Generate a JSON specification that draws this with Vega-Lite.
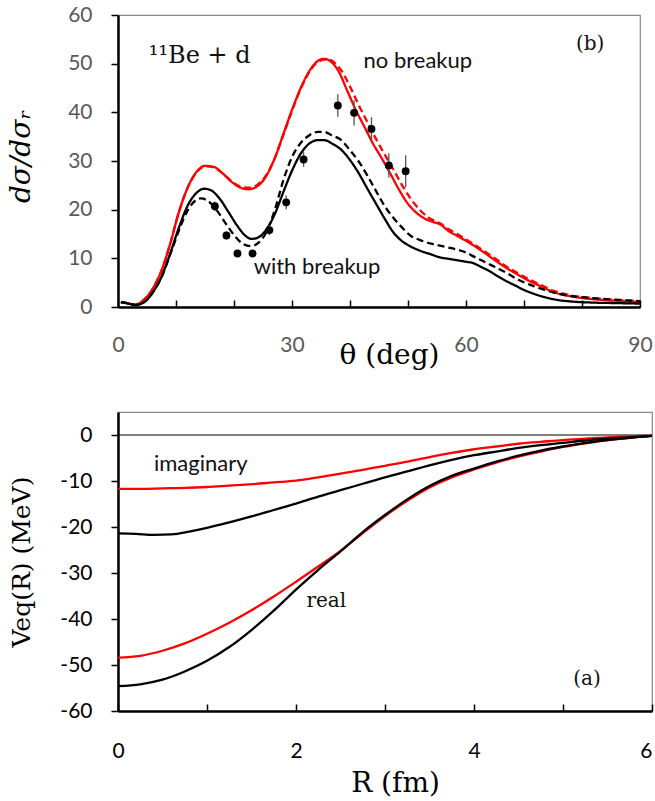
{
  "$schema": "https://vega.github.io/schema/vega-lite/v6.json",
  "background": "white",
  "padding": {"left": 6, "top": 3, "right": 0, "bottom": 0},
  "spacing": 41,
  "config": {
    "view": {"stroke": "#888888", "strokeWidth": 1.2},
    "axis": {"domainColor": "#000000", "domainWidth": 2.5, "tickColor": "#000000", "tickWidth": 1.5, "grid": false, "labelFlush": false, "labelFont": "Lato", "labelFontSize": 21, "titleFont": "DejaVu Serif", "titleFontWeight": "normal", "titleColor": "#000000"},
    "text": {"color": "#111111"}
  },
  "datasets": {
    "xs": [
      {"theta":0.5,"sigma":1.0,"case":"no breakup","calc":"exact"},{"theta":1.5,"sigma":0.8,"case":"no breakup","calc":"exact"},{"theta":3,"sigma":0.5,"case":"no breakup","calc":"exact"},{"theta":4.5,"sigma":1.5,"case":"no breakup","calc":"exact"},{"theta":6,"sigma":3.8,"case":"no breakup","calc":"exact"},{"theta":7.5,"sigma":7.5,"case":"no breakup","calc":"exact"},{"theta":9,"sigma":13.0,"case":"no breakup","calc":"exact"},{"theta":10.5,"sigma":19.5,"case":"no breakup","calc":"exact"},{"theta":12,"sigma":24.5,"case":"no breakup","calc":"exact"},{"theta":13.5,"sigma":27.7,"case":"no breakup","calc":"exact"},{"theta":15,"sigma":29.0,"case":"no breakup","calc":"exact"},{"theta":16.5,"sigma":28.8,"case":"no breakup","calc":"exact"},{"theta":18,"sigma":27.5,"case":"no breakup","calc":"exact"},{"theta":19.5,"sigma":25.8,"case":"no breakup","calc":"exact"},{"theta":21,"sigma":24.6,"case":"no breakup","calc":"exact"},{"theta":22.5,"sigma":24.2,"case":"no breakup","calc":"exact"},{"theta":24,"sigma":24.8,"case":"no breakup","calc":"exact"},{"theta":25.5,"sigma":26.8,"case":"no breakup","calc":"exact"},{"theta":27,"sigma":30.5,"case":"no breakup","calc":"exact"},{"theta":28.5,"sigma":35.5,"case":"no breakup","calc":"exact"},{"theta":30,"sigma":40.5,"case":"no breakup","calc":"exact"},{"theta":31.5,"sigma":45.0,"case":"no breakup","calc":"exact"},{"theta":33,"sigma":48.5,"case":"no breakup","calc":"exact"},{"theta":34.5,"sigma":50.6,"case":"no breakup","calc":"exact"},{"theta":35.5,"sigma":51.0,"case":"no breakup","calc":"exact"},{"theta":36.5,"sigma":50.6,"case":"no breakup","calc":"exact"},{"theta":38,"sigma":48.5,"case":"no breakup","calc":"exact"},{"theta":39.5,"sigma":44.5,"case":"no breakup","calc":"exact"},{"theta":41,"sigma":40.5,"case":"no breakup","calc":"exact"},{"theta":42.5,"sigma":37.0,"case":"no breakup","calc":"exact"},{"theta":44,"sigma":33.5,"case":"no breakup","calc":"exact"},{"theta":45.5,"sigma":30.5,"case":"no breakup","calc":"exact"},{"theta":47,"sigma":27.3,"case":"no breakup","calc":"exact"},{"theta":48.5,"sigma":24.0,"case":"no breakup","calc":"exact"},{"theta":50,"sigma":21.2,"case":"no breakup","calc":"exact"},{"theta":51.5,"sigma":19.3,"case":"no breakup","calc":"exact"},{"theta":53,"sigma":18.1,"case":"no breakup","calc":"exact"},{"theta":54.5,"sigma":17.4,"case":"no breakup","calc":"exact"},{"theta":55.5,"sigma":17.0,"case":"no breakup","calc":"exact"},{"theta":57,"sigma":15.6,"case":"no breakup","calc":"exact"},{"theta":58.5,"sigma":14.6,"case":"no breakup","calc":"exact"},{"theta":60,"sigma":13.6,"case":"no breakup","calc":"exact"},{"theta":61.5,"sigma":12.5,"case":"no breakup","calc":"exact"},{"theta":63,"sigma":11.3,"case":"no breakup","calc":"exact"},{"theta":65,"sigma":9.6,"case":"no breakup","calc":"exact"},{"theta":67,"sigma":8.0,"case":"no breakup","calc":"exact"},{"theta":69,"sigma":6.6,"case":"no breakup","calc":"exact"},{"theta":71,"sigma":5.3,"case":"no breakup","calc":"exact"},{"theta":72.8,"sigma":4.3,"case":"no breakup","calc":"exact"},{"theta":75,"sigma":3.1,"case":"no breakup","calc":"exact"},{"theta":78.5,"sigma":2.1,"case":"no breakup","calc":"exact"},{"theta":81,"sigma":1.7,"case":"no breakup","calc":"exact"},{"theta":84.3,"sigma":1.4,"case":"no breakup","calc":"exact"},{"theta":87,"sigma":1.2,"case":"no breakup","calc":"exact"},{"theta":90,"sigma":1.0,"case":"no breakup","calc":"exact"},
      {"theta":0.5,"sigma":1.0,"case":"no breakup","calc":"equivalent"},{"theta":1.5,"sigma":0.8,"case":"no breakup","calc":"equivalent"},{"theta":3,"sigma":0.5,"case":"no breakup","calc":"equivalent"},{"theta":4.5,"sigma":1.5,"case":"no breakup","calc":"equivalent"},{"theta":6,"sigma":3.8,"case":"no breakup","calc":"equivalent"},{"theta":7.5,"sigma":7.5,"case":"no breakup","calc":"equivalent"},{"theta":9,"sigma":13.0,"case":"no breakup","calc":"equivalent"},{"theta":10.5,"sigma":19.5,"case":"no breakup","calc":"equivalent"},{"theta":12,"sigma":24.5,"case":"no breakup","calc":"equivalent"},{"theta":13.5,"sigma":27.6,"case":"no breakup","calc":"equivalent"},{"theta":15,"sigma":28.9,"case":"no breakup","calc":"equivalent"},{"theta":16.5,"sigma":28.7,"case":"no breakup","calc":"equivalent"},{"theta":18,"sigma":27.5,"case":"no breakup","calc":"equivalent"},{"theta":19.5,"sigma":25.9,"case":"no breakup","calc":"equivalent"},{"theta":21,"sigma":24.8,"case":"no breakup","calc":"equivalent"},{"theta":22.5,"sigma":24.5,"case":"no breakup","calc":"equivalent"},{"theta":24,"sigma":25.1,"case":"no breakup","calc":"equivalent"},{"theta":25.5,"sigma":27.0,"case":"no breakup","calc":"equivalent"},{"theta":27,"sigma":30.5,"case":"no breakup","calc":"equivalent"},{"theta":28.5,"sigma":35.3,"case":"no breakup","calc":"equivalent"},{"theta":30,"sigma":40.3,"case":"no breakup","calc":"equivalent"},{"theta":31.5,"sigma":44.8,"case":"no breakup","calc":"equivalent"},{"theta":33,"sigma":48.3,"case":"no breakup","calc":"equivalent"},{"theta":34.5,"sigma":50.4,"case":"no breakup","calc":"equivalent"},{"theta":36,"sigma":50.9,"case":"no breakup","calc":"equivalent"},{"theta":37,"sigma":50.5,"case":"no breakup","calc":"equivalent"},{"theta":38.5,"sigma":48.6,"case":"no breakup","calc":"equivalent"},{"theta":40,"sigma":45.3,"case":"no breakup","calc":"equivalent"},{"theta":41.5,"sigma":41.5,"case":"no breakup","calc":"equivalent"},{"theta":43,"sigma":38.0,"case":"no breakup","calc":"equivalent"},{"theta":44.5,"sigma":34.5,"case":"no breakup","calc":"equivalent"},{"theta":46,"sigma":31.3,"case":"no breakup","calc":"equivalent"},{"theta":47.5,"sigma":28.2,"case":"no breakup","calc":"equivalent"},{"theta":49,"sigma":25.0,"case":"no breakup","calc":"equivalent"},{"theta":50.5,"sigma":22.2,"case":"no breakup","calc":"equivalent"},{"theta":52,"sigma":20.0,"case":"no breakup","calc":"equivalent"},{"theta":53.5,"sigma":18.4,"case":"no breakup","calc":"equivalent"},{"theta":55.5,"sigma":17.2,"case":"no breakup","calc":"equivalent"},{"theta":57,"sigma":16.0,"case":"no breakup","calc":"equivalent"},{"theta":58.5,"sigma":15.0,"case":"no breakup","calc":"equivalent"},{"theta":60,"sigma":13.9,"case":"no breakup","calc":"equivalent"},{"theta":61.5,"sigma":12.8,"case":"no breakup","calc":"equivalent"},{"theta":63,"sigma":11.6,"case":"no breakup","calc":"equivalent"},{"theta":65,"sigma":10.0,"case":"no breakup","calc":"equivalent"},{"theta":67,"sigma":8.3,"case":"no breakup","calc":"equivalent"},{"theta":69,"sigma":6.9,"case":"no breakup","calc":"equivalent"},{"theta":71,"sigma":5.6,"case":"no breakup","calc":"equivalent"},{"theta":72.8,"sigma":4.6,"case":"no breakup","calc":"equivalent"},{"theta":75,"sigma":3.4,"case":"no breakup","calc":"equivalent"},{"theta":78.5,"sigma":2.3,"case":"no breakup","calc":"equivalent"},{"theta":81,"sigma":1.9,"case":"no breakup","calc":"equivalent"},{"theta":84.3,"sigma":1.6,"case":"no breakup","calc":"equivalent"},{"theta":87,"sigma":1.4,"case":"no breakup","calc":"equivalent"},{"theta":90,"sigma":1.2,"case":"no breakup","calc":"equivalent"},
      {"theta":0.5,"sigma":1.0,"case":"with breakup","calc":"exact"},{"theta":1.5,"sigma":0.8,"case":"with breakup","calc":"exact"},{"theta":3,"sigma":0.4,"case":"with breakup","calc":"exact"},{"theta":4.5,"sigma":1.0,"case":"with breakup","calc":"exact"},{"theta":6,"sigma":3.0,"case":"with breakup","calc":"exact"},{"theta":7.5,"sigma":6.2,"case":"with breakup","calc":"exact"},{"theta":9,"sigma":11.0,"case":"with breakup","calc":"exact"},{"theta":10.5,"sigma":16.3,"case":"with breakup","calc":"exact"},{"theta":12,"sigma":20.8,"case":"with breakup","calc":"exact"},{"theta":13.5,"sigma":23.4,"case":"with breakup","calc":"exact"},{"theta":14.8,"sigma":24.3,"case":"with breakup","calc":"exact"},{"theta":16,"sigma":24.0,"case":"with breakup","calc":"exact"},{"theta":17.5,"sigma":22.3,"case":"with breakup","calc":"exact"},{"theta":19,"sigma":19.6,"case":"with breakup","calc":"exact"},{"theta":20.5,"sigma":16.8,"case":"with breakup","calc":"exact"},{"theta":22,"sigma":14.6,"case":"with breakup","calc":"exact"},{"theta":23,"sigma":14.0,"case":"with breakup","calc":"exact"},{"theta":24,"sigma":14.2,"case":"with breakup","calc":"exact"},{"theta":25.5,"sigma":15.8,"case":"with breakup","calc":"exact"},{"theta":27,"sigma":19.0,"case":"with breakup","calc":"exact"},{"theta":28.5,"sigma":23.6,"case":"with breakup","calc":"exact"},{"theta":30,"sigma":28.0,"case":"with breakup","calc":"exact"},{"theta":31.5,"sigma":31.5,"case":"with breakup","calc":"exact"},{"theta":33,"sigma":33.6,"case":"with breakup","calc":"exact"},{"theta":34.5,"sigma":34.3,"case":"with breakup","calc":"exact"},{"theta":35.5,"sigma":34.3,"case":"with breakup","calc":"exact"},{"theta":37,"sigma":33.5,"case":"with breakup","calc":"exact"},{"theta":38.5,"sigma":32.3,"case":"with breakup","calc":"exact"},{"theta":40,"sigma":30.2,"case":"with breakup","calc":"exact"},{"theta":41.5,"sigma":27.5,"case":"with breakup","calc":"exact"},{"theta":43,"sigma":24.3,"case":"with breakup","calc":"exact"},{"theta":44.5,"sigma":21.2,"case":"with breakup","calc":"exact"},{"theta":46,"sigma":18.1,"case":"with breakup","calc":"exact"},{"theta":47.5,"sigma":15.3,"case":"with breakup","calc":"exact"},{"theta":49,"sigma":13.5,"case":"with breakup","calc":"exact"},{"theta":50.5,"sigma":12.4,"case":"with breakup","calc":"exact"},{"theta":52,"sigma":11.6,"case":"with breakup","calc":"exact"},{"theta":54,"sigma":10.8,"case":"with breakup","calc":"exact"},{"theta":55.5,"sigma":10.2,"case":"with breakup","calc":"exact"},{"theta":57,"sigma":9.9,"case":"with breakup","calc":"exact"},{"theta":58.5,"sigma":9.6,"case":"with breakup","calc":"exact"},{"theta":60,"sigma":9.3,"case":"with breakup","calc":"exact"},{"theta":61.3,"sigma":9.0,"case":"with breakup","calc":"exact"},{"theta":62.5,"sigma":8.3,"case":"with breakup","calc":"exact"},{"theta":64,"sigma":7.4,"case":"with breakup","calc":"exact"},{"theta":65.5,"sigma":6.3,"case":"with breakup","calc":"exact"},{"theta":67,"sigma":5.3,"case":"with breakup","calc":"exact"},{"theta":68.5,"sigma":4.4,"case":"with breakup","calc":"exact"},{"theta":70,"sigma":3.5,"case":"with breakup","calc":"exact"},{"theta":71.5,"sigma":2.8,"case":"with breakup","calc":"exact"},{"theta":73,"sigma":2.2,"case":"with breakup","calc":"exact"},{"theta":75.5,"sigma":1.5,"case":"with breakup","calc":"exact"},{"theta":78.5,"sigma":1.1,"case":"with breakup","calc":"exact"},{"theta":82,"sigma":0.9,"case":"with breakup","calc":"exact"},{"theta":86,"sigma":0.8,"case":"with breakup","calc":"exact"},{"theta":90,"sigma":0.7,"case":"with breakup","calc":"exact"},
      {"theta":0.5,"sigma":1.0,"case":"with breakup","calc":"equivalent"},{"theta":1.5,"sigma":0.8,"case":"with breakup","calc":"equivalent"},{"theta":3,"sigma":0.4,"case":"with breakup","calc":"equivalent"},{"theta":4.5,"sigma":1.0,"case":"with breakup","calc":"equivalent"},{"theta":6,"sigma":3.0,"case":"with breakup","calc":"equivalent"},{"theta":7.5,"sigma":6.1,"case":"with breakup","calc":"equivalent"},{"theta":9,"sigma":10.8,"case":"with breakup","calc":"equivalent"},{"theta":10.5,"sigma":15.7,"case":"with breakup","calc":"equivalent"},{"theta":12,"sigma":19.8,"case":"with breakup","calc":"equivalent"},{"theta":13.5,"sigma":22.0,"case":"with breakup","calc":"equivalent"},{"theta":14.3,"sigma":22.3,"case":"with breakup","calc":"equivalent"},{"theta":15.5,"sigma":21.8,"case":"with breakup","calc":"equivalent"},{"theta":17,"sigma":19.9,"case":"with breakup","calc":"equivalent"},{"theta":18.5,"sigma":17.3,"case":"with breakup","calc":"equivalent"},{"theta":20,"sigma":14.8,"case":"with breakup","calc":"equivalent"},{"theta":21.5,"sigma":13.0,"case":"with breakup","calc":"equivalent"},{"theta":22.8,"sigma":12.5,"case":"with breakup","calc":"equivalent"},{"theta":24,"sigma":13.0,"case":"with breakup","calc":"equivalent"},{"theta":25.5,"sigma":15.2,"case":"with breakup","calc":"equivalent"},{"theta":27,"sigma":19.8,"case":"with breakup","calc":"equivalent"},{"theta":28.5,"sigma":26.0,"case":"with breakup","calc":"equivalent"},{"theta":30,"sigma":30.8,"case":"with breakup","calc":"equivalent"},{"theta":31.5,"sigma":33.7,"case":"with breakup","calc":"equivalent"},{"theta":33,"sigma":35.3,"case":"with breakup","calc":"equivalent"},{"theta":34.5,"sigma":36.0,"case":"with breakup","calc":"equivalent"},{"theta":35.5,"sigma":36.0,"case":"with breakup","calc":"equivalent"},{"theta":37,"sigma":35.2,"case":"with breakup","calc":"equivalent"},{"theta":38.5,"sigma":34.3,"case":"with breakup","calc":"equivalent"},{"theta":40,"sigma":32.2,"case":"with breakup","calc":"equivalent"},{"theta":41.5,"sigma":29.9,"case":"with breakup","calc":"equivalent"},{"theta":43,"sigma":27.0,"case":"with breakup","calc":"equivalent"},{"theta":44.5,"sigma":23.8,"case":"with breakup","calc":"equivalent"},{"theta":46,"sigma":20.7,"case":"with breakup","calc":"equivalent"},{"theta":47.5,"sigma":18.3,"case":"with breakup","calc":"equivalent"},{"theta":49,"sigma":16.3,"case":"with breakup","calc":"equivalent"},{"theta":50.5,"sigma":14.6,"case":"with breakup","calc":"equivalent"},{"theta":52,"sigma":13.8,"case":"with breakup","calc":"equivalent"},{"theta":54,"sigma":13.0,"case":"with breakup","calc":"equivalent"},{"theta":55.5,"sigma":12.6,"case":"with breakup","calc":"equivalent"},{"theta":57,"sigma":12.2,"case":"with breakup","calc":"equivalent"},{"theta":58.5,"sigma":11.8,"case":"with breakup","calc":"equivalent"},{"theta":60,"sigma":11.2,"case":"with breakup","calc":"equivalent"},{"theta":61.3,"sigma":10.4,"case":"with breakup","calc":"equivalent"},{"theta":63,"sigma":9.4,"case":"with breakup","calc":"equivalent"},{"theta":65,"sigma":8.2,"case":"with breakup","calc":"equivalent"},{"theta":67,"sigma":7.0,"case":"with breakup","calc":"equivalent"},{"theta":69,"sigma":5.6,"case":"with breakup","calc":"equivalent"},{"theta":71,"sigma":4.6,"case":"with breakup","calc":"equivalent"},{"theta":72.8,"sigma":3.8,"case":"with breakup","calc":"equivalent"},{"theta":75,"sigma":3.0,"case":"with breakup","calc":"equivalent"},{"theta":78.5,"sigma":2.2,"case":"with breakup","calc":"equivalent"},{"theta":81,"sigma":1.9,"case":"with breakup","calc":"equivalent"},{"theta":84.3,"sigma":1.6,"case":"with breakup","calc":"equivalent"},{"theta":87,"sigma":1.4,"case":"with breakup","calc":"equivalent"},{"theta":90,"sigma":1.2,"case":"with breakup","calc":"equivalent"}
    ],
    "pts": [
      {"theta":16.7,"sigma":20.7,"lo":19.7,"hi":21.7},
      {"theta":18.7,"sigma":14.7,"lo":13.9,"hi":15.5},
      {"theta":20.6,"sigma":11.0,"lo":10.3,"hi":11.7},
      {"theta":23.2,"sigma":11.0,"lo":10.3,"hi":11.7},
      {"theta":26.1,"sigma":15.8,"lo":14.8,"hi":16.8},
      {"theta":29.0,"sigma":21.5,"lo":20.1,"hi":22.9},
      {"theta":32.0,"sigma":30.3,"lo":28.8,"hi":31.8},
      {"theta":37.9,"sigma":41.4,"lo":39.1,"hi":43.7},
      {"theta":40.7,"sigma":39.9,"lo":37.3,"hi":42.5},
      {"theta":43.7,"sigma":36.6,"lo":34.2,"hi":39.0},
      {"theta":46.7,"sigma":29.1,"lo":26.6,"hi":31.6},
      {"theta":49.6,"sigma":27.9,"lo":24.6,"hi":31.2}
    ],
    "pot": [
      {"R":0,"V":-11.7,"case":"no breakup","part":"imaginary"},{"R":0.25,"V":-11.7,"case":"no breakup","part":"imaginary"},{"R":0.5,"V":-11.6,"case":"no breakup","part":"imaginary"},{"R":0.75,"V":-11.5,"case":"no breakup","part":"imaginary"},{"R":1,"V":-11.3,"case":"no breakup","part":"imaginary"},{"R":1.25,"V":-11.0,"case":"no breakup","part":"imaginary"},{"R":1.5,"V":-10.7,"case":"no breakup","part":"imaginary"},{"R":1.75,"V":-10.3,"case":"no breakup","part":"imaginary"},{"R":2,"V":-9.9,"case":"no breakup","part":"imaginary"},{"R":2.25,"V":-9.2,"case":"no breakup","part":"imaginary"},{"R":2.5,"V":-8.4,"case":"no breakup","part":"imaginary"},{"R":2.75,"V":-7.6,"case":"no breakup","part":"imaginary"},{"R":3,"V":-6.7,"case":"no breakup","part":"imaginary"},{"R":3.25,"V":-5.8,"case":"no breakup","part":"imaginary"},{"R":3.5,"V":-4.8,"case":"no breakup","part":"imaginary"},{"R":3.75,"V":-3.9,"case":"no breakup","part":"imaginary"},{"R":4,"V":-3.1,"case":"no breakup","part":"imaginary"},{"R":4.25,"V":-2.5,"case":"no breakup","part":"imaginary"},{"R":4.5,"V":-1.9,"case":"no breakup","part":"imaginary"},{"R":4.75,"V":-1.5,"case":"no breakup","part":"imaginary"},{"R":5,"V":-1.1,"case":"no breakup","part":"imaginary"},{"R":5.25,"V":-0.8,"case":"no breakup","part":"imaginary"},{"R":5.5,"V":-0.5,"case":"no breakup","part":"imaginary"},{"R":5.75,"V":-0.3,"case":"no breakup","part":"imaginary"},{"R":6,"V":-0.2,"case":"no breakup","part":"imaginary"},
      {"R":0,"V":-48.4,"case":"no breakup","part":"real"},{"R":0.25,"V":-48.0,"case":"no breakup","part":"real"},{"R":0.5,"V":-46.9,"case":"no breakup","part":"real"},{"R":0.75,"V":-45.3,"case":"no breakup","part":"real"},{"R":1,"V":-43.2,"case":"no breakup","part":"real"},{"R":1.25,"V":-40.8,"case":"no breakup","part":"real"},{"R":1.5,"V":-38.1,"case":"no breakup","part":"real"},{"R":1.75,"V":-35.1,"case":"no breakup","part":"real"},{"R":2,"V":-31.9,"case":"no breakup","part":"real"},{"R":2.25,"V":-28.6,"case":"no breakup","part":"real"},{"R":2.5,"V":-25.2,"case":"no breakup","part":"real"},{"R":2.75,"V":-21.3,"case":"no breakup","part":"real"},{"R":3,"V":-17.6,"case":"no breakup","part":"real"},{"R":3.25,"V":-14.3,"case":"no breakup","part":"real"},{"R":3.5,"V":-11.4,"case":"no breakup","part":"real"},{"R":3.75,"V":-9.2,"case":"no breakup","part":"real"},{"R":4,"V":-7.5,"case":"no breakup","part":"real"},{"R":4.25,"V":-6.0,"case":"no breakup","part":"real"},{"R":4.5,"V":-4.7,"case":"no breakup","part":"real"},{"R":4.75,"V":-3.6,"case":"no breakup","part":"real"},{"R":5,"V":-2.6,"case":"no breakup","part":"real"},{"R":5.25,"V":-1.8,"case":"no breakup","part":"real"},{"R":5.5,"V":-1.1,"case":"no breakup","part":"real"},{"R":5.75,"V":-0.6,"case":"no breakup","part":"real"},{"R":6,"V":-0.2,"case":"no breakup","part":"real"},
      {"R":0,"V":-21.4,"case":"with breakup","part":"imaginary"},{"R":0.2,"V":-21.5,"case":"with breakup","part":"imaginary"},{"R":0.4,"V":-21.7,"case":"with breakup","part":"imaginary"},{"R":0.6,"V":-21.6,"case":"with breakup","part":"imaginary"},{"R":0.8,"V":-21.0,"case":"with breakup","part":"imaginary"},{"R":1,"V":-20.2,"case":"with breakup","part":"imaginary"},{"R":1.25,"V":-19.0,"case":"with breakup","part":"imaginary"},{"R":1.5,"V":-17.7,"case":"with breakup","part":"imaginary"},{"R":1.75,"V":-16.3,"case":"with breakup","part":"imaginary"},{"R":2,"V":-14.9,"case":"with breakup","part":"imaginary"},{"R":2.25,"V":-13.4,"case":"with breakup","part":"imaginary"},{"R":2.5,"V":-12.0,"case":"with breakup","part":"imaginary"},{"R":2.75,"V":-10.6,"case":"with breakup","part":"imaginary"},{"R":3,"V":-9.2,"case":"with breakup","part":"imaginary"},{"R":3.25,"V":-7.9,"case":"with breakup","part":"imaginary"},{"R":3.5,"V":-6.6,"case":"with breakup","part":"imaginary"},{"R":3.75,"V":-5.4,"case":"with breakup","part":"imaginary"},{"R":4,"V":-4.4,"case":"with breakup","part":"imaginary"},{"R":4.25,"V":-3.6,"case":"with breakup","part":"imaginary"},{"R":4.5,"V":-2.8,"case":"with breakup","part":"imaginary"},{"R":4.75,"V":-2.2,"case":"with breakup","part":"imaginary"},{"R":5,"V":-1.7,"case":"with breakup","part":"imaginary"},{"R":5.25,"V":-1.2,"case":"with breakup","part":"imaginary"},{"R":5.5,"V":-0.8,"case":"with breakup","part":"imaginary"},{"R":5.75,"V":-0.5,"case":"with breakup","part":"imaginary"},{"R":6,"V":-0.2,"case":"with breakup","part":"imaginary"},
      {"R":0,"V":-54.6,"case":"with breakup","part":"real"},{"R":0.25,"V":-54.2,"case":"with breakup","part":"real"},{"R":0.5,"V":-53.2,"case":"with breakup","part":"real"},{"R":0.75,"V":-51.4,"case":"with breakup","part":"real"},{"R":1,"V":-49.1,"case":"with breakup","part":"real"},{"R":1.25,"V":-46.1,"case":"with breakup","part":"real"},{"R":1.5,"V":-42.4,"case":"with breakup","part":"real"},{"R":1.75,"V":-38.2,"case":"with breakup","part":"real"},{"R":2,"V":-33.6,"case":"with breakup","part":"real"},{"R":2.25,"V":-29.3,"case":"with breakup","part":"real"},{"R":2.5,"V":-25.3,"case":"with breakup","part":"real"},{"R":2.75,"V":-21.1,"case":"with breakup","part":"real"},{"R":3,"V":-17.4,"case":"with breakup","part":"real"},{"R":3.25,"V":-14.0,"case":"with breakup","part":"real"},{"R":3.5,"V":-11.1,"case":"with breakup","part":"real"},{"R":3.75,"V":-8.9,"case":"with breakup","part":"real"},{"R":4,"V":-7.3,"case":"with breakup","part":"real"},{"R":4.25,"V":-5.8,"case":"with breakup","part":"real"},{"R":4.5,"V":-4.5,"case":"with breakup","part":"real"},{"R":4.75,"V":-3.4,"case":"with breakup","part":"real"},{"R":5,"V":-2.5,"case":"with breakup","part":"real"},{"R":5.25,"V":-1.7,"case":"with breakup","part":"real"},{"R":5.5,"V":-1.1,"case":"with breakup","part":"real"},{"R":5.75,"V":-0.6,"case":"with breakup","part":"real"},{"R":6,"V":-0.2,"case":"with breakup","part":"real"}
    ]
  },
  "vconcat": [
    {
      "width": 522,
      "height": 292,
      "layer": [
        {
          "data": {"name": "xs"},
          "transform": [{"filter": "datum.case == 'no breakup'"}],
          "mark": {"type": "line", "strokeWidth": 2.3, "interpolate": "monotone"},
          "encoding": {
            "x": {"field": "theta", "type": "quantitative", "scale": {"domain": [0, 90], "nice": false},
              "axis": {"title": "θ (deg)", "values": [0,10,20,30,40,50,60,70,80,90], "labelExpr": "datum.value % 30 == 0 ? '' + datum.value : ''", "labelFlush": false, "tickSize": -7, "labelPadding": 34, "labelColor": "#595959", "titleFontSize": 28, "titleY": 56, "titleX": 271, "titleAlign": "center", "titleBaseline": "alphabetic"}},
            "y": {"field": "sigma", "type": "quantitative", "scale": {"domain": [0, 60], "nice": false},
              "axis": {"title": "dσ/dσᵣ", "values": [0,5,10,15,20,25,30,35,40,45,50,55,60], "labelExpr": "datum.value % 10 == 0 ? '' + datum.value : ''", "tickSize": 7, "labelPadding": 19, "labelColor": "#595959", "titleFontSize": 28, "titleFontStyle": "italic", "titleX": -89, "titleY": 141, "titleAlign": "center", "titleBaseline": "alphabetic"}},
            "color": {"field": "case", "type": "nominal", "scale": {"domain": ["no breakup", "with breakup"], "range": ["#ff0000", "#000000"]}, "legend": null},
            "strokeDash": {"field": "calc", "type": "nominal", "scale": {"domain": ["exact", "equivalent"], "range": [[1, 0], [7, 4]]}, "legend": null}
          }
        },
        {
          "data": {"name": "xs"},
          "transform": [{"filter": "datum.case == 'with breakup'"}],
          "mark": {"type": "line", "strokeWidth": 2.3, "interpolate": "monotone"},
          "encoding": {
            "x": {"field": "theta", "type": "quantitative"},
            "y": {"field": "sigma", "type": "quantitative"},
            "color": {"field": "case", "type": "nominal", "legend": null},
            "strokeDash": {"field": "calc", "type": "nominal", "legend": null}
          }
        },
        {
          "data": {"name": "pts"},
          "mark": {"type": "rule", "color": "#555555", "strokeWidth": 1.3},
          "encoding": {
            "x": {"field": "theta", "type": "quantitative"},
            "y": {"field": "lo", "type": "quantitative"},
            "y2": {"field": "hi"}
          }
        },
        {
          "data": {"name": "pts"},
          "mark": {"type": "circle", "color": "#000000", "opacity": 1, "size": 62},
          "encoding": {
            "x": {"field": "theta", "type": "quantitative"},
            "y": {"field": "sigma", "type": "quantitative"}
          }
        },
        {
          "data": {"values": [
            {"theta": 51.7, "sigma": 50.6, "label": "no breakup"},
            {"theta": 34.3, "sigma": 8.2, "label": "with breakup"}
          ]},
          "mark": {"type": "text", "font": "Lato", "fontSize": 22, "align": "center", "baseline": "middle"},
          "encoding": {
            "x": {"field": "theta", "type": "quantitative"},
            "y": {"field": "sigma", "type": "quantitative"},
            "text": {"field": "label"}
          }
        },
        {
          "data": {"values": [
            {"theta": 14.1, "sigma": 51.6, "label": "¹¹Be + d"}
          ]},
          "mark": {"type": "text", "font": "DejaVu Serif", "fontSize": 24, "align": "center", "baseline": "middle"},
          "encoding": {
            "x": {"field": "theta", "type": "quantitative"},
            "y": {"field": "sigma", "type": "quantitative"},
            "text": {"field": "label"}
          }
        },
        {
          "data": {"values": [
            {"theta": 81.4, "sigma": 54.1, "label": "(b)"}
          ]},
          "mark": {"type": "text", "font": "DejaVu Serif", "fontSize": 20, "align": "center", "baseline": "middle"},
          "encoding": {
            "x": {"field": "theta", "type": "quantitative"},
            "y": {"field": "sigma", "type": "quantitative"},
            "text": {"field": "label"}
          }
        }
      ]
    },
    {
      "width": 534,
      "height": 299,
      "layer": [
        {
          "data": {"values": [{"V": 0}]},
          "mark": {"type": "rule", "color": "#000000", "strokeWidth": 1.2},
          "encoding": {
            "y": {"field": "V", "type": "quantitative", "scale": {"domain": [-60, 5], "nice": false},
              "axis": {"title": "Veq(R) (MeV)", "values": [-60,-55,-50,-45,-40,-35,-30,-25,-20,-15,-10,-5,0], "labelExpr": "datum.value % 10 == 0 ? '' + datum.value : ''", "tickSize": 7, "labelPadding": 19, "labelColor": "#000000", "titleFontSize": 25, "titleX": -89, "titleAlign": "center", "titleBaseline": "alphabetic"}}
          }
        },
        {
          "data": {"name": "pot"},
          "transform": [{"filter": "datum.case == 'no breakup'"}],
          "mark": {"type": "line", "strokeWidth": 2.3, "interpolate": "monotone"},
          "encoding": {
            "x": {"field": "R", "type": "quantitative", "scale": {"domain": [0, 6], "nice": false},
              "axis": {"title": "R (fm)", "values": [0,1,2,3,4,5,6], "labelExpr": "datum.value % 2 == 0 ? '' + datum.value : ''", "labelFlush": false, "tickSize": -7, "labelPadding": 36, "labelColor": "#000000", "labelAlign": {"condition": {"test": "datum.value == 6", "value": "right"}, "value": "center"}, "titleFontSize": 28, "titleY": 80, "titleX": 277, "titleAlign": "center", "titleBaseline": "alphabetic"}},
            "y": {"field": "V", "type": "quantitative"},
            "color": {"field": "case", "type": "nominal", "scale": {"domain": ["no breakup", "with breakup"], "range": ["#ff0000", "#000000"]}, "legend": null},
            "detail": {"field": "part", "type": "nominal"}
          }
        },
        {
          "data": {"name": "pot"},
          "transform": [{"filter": "datum.case == 'with breakup'"}],
          "mark": {"type": "line", "strokeWidth": 2.3, "interpolate": "monotone"},
          "encoding": {
            "x": {"field": "R", "type": "quantitative"},
            "y": {"field": "V", "type": "quantitative"},
            "color": {"field": "case", "type": "nominal", "legend": null},
            "detail": {"field": "part", "type": "nominal"}
          }
        },
        {
          "data": {"values": [
            {"R": 0.93, "V": -6.2, "label": "imaginary"}
          ]},
          "mark": {"type": "text", "font": "Lato", "fontSize": 22, "align": "center", "baseline": "middle"},
          "encoding": {
            "x": {"field": "R", "type": "quantitative"},
            "y": {"field": "V", "type": "quantitative"},
            "text": {"field": "label"}
          }
        },
        {
          "data": {"values": [
            {"R": 2.34, "V": -36.0, "label": "real"},
            {"R": 5.27, "V": -53.0, "label": "(a)"}
          ]},
          "mark": {"type": "text", "font": "DejaVu Serif", "fontSize": 20, "align": "center", "baseline": "middle"},
          "encoding": {
            "x": {"field": "R", "type": "quantitative"},
            "y": {"field": "V", "type": "quantitative"},
            "text": {"field": "label"}
          }
        }
      ]
    }
  ]
}
